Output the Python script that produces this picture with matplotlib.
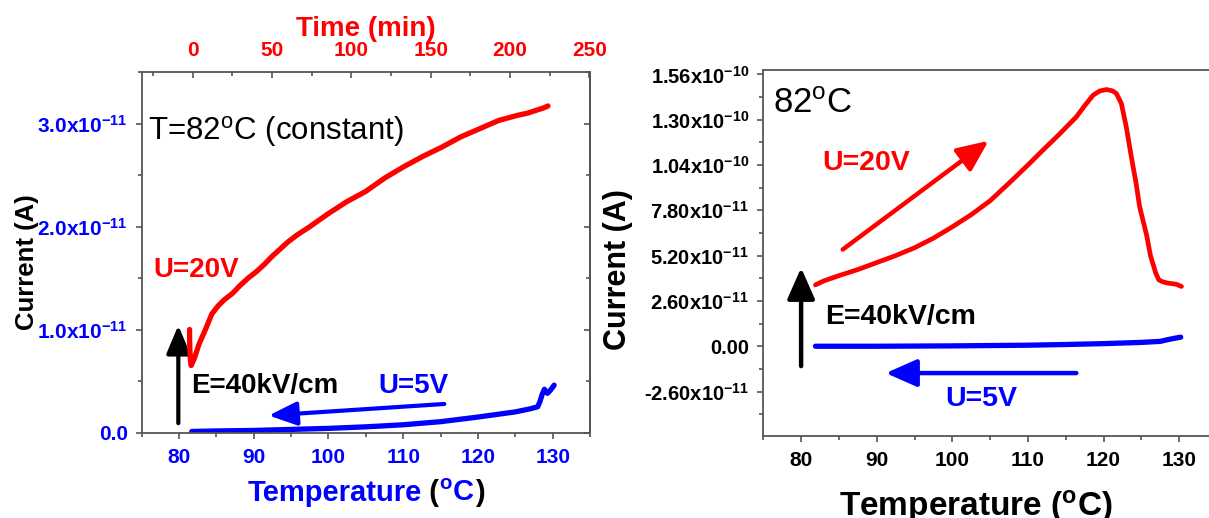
import numpy as np
import matplotlib
matplotlib.use('Agg')
import matplotlib.pyplot as plt
from matplotlib.ticker import MultipleLocator, FixedLocator
from matplotlib.offsetbox import TextArea, HPacker, AnnotationBbox

plt.rcParams['font.family'] = ['Liberation Sans', 'DejaVu Sans']
plt.rcParams['mathtext.default'] = 'regular'

# ---- left panel: U=20V at constant 82 C (vs time), U=5V on cooling (vs T)
# currents in units of 1e-11 A
time_const = [-2.0, -2.0, -1.8, -1.5, -1.0, 1, 4, 8, 12, 16, 20, 25, 30, 35, 40,
              45, 50, 55, 60, 66, 73, 85, 97, 109, 121, 133, 145, 157, 169, 181,
              193, 205, 211, 217, 221, 224]
cur_const = [1.00, 0.90, 0.80, 0.70, 0.65, 0.72, 0.86, 1.00, 1.15, 1.23, 1.29,
             1.35, 1.43, 1.50, 1.56, 1.63, 1.71, 1.78, 1.85, 1.92, 1.99, 2.12,
             2.24, 2.34, 2.47, 2.58, 2.68, 2.77, 2.87, 2.95, 3.03, 3.08, 3.10,
             3.13, 3.15, 3.17]

temp_cool_l = [81.7, 85, 90, 95, 100, 105, 110, 115, 120, 123, 125, 127, 128,
               128.3, 128.6, 128.9, 129.3, 129.7, 130.2]
cur_cool_l = [0.01, 0.015, 0.02, 0.03, 0.04, 0.055, 0.075, 0.105, 0.15, 0.18,
              0.20, 0.23, 0.25, 0.30, 0.37, 0.42, 0.38, 0.41, 0.46]

# ---- right panel: U=20V on heating, U=5V on cooling (vs T)
temp_heat_r = [81.9, 83.0, 85.0, 87.5, 90.0, 92.5, 95.0, 97.5, 100.0, 102.5,
               105.0, 107.6, 110.0, 112.0, 114.0, 116.4, 117.5, 118.6, 119.5,
               120.4, 121.2, 121.7, 122.35, 123.0, 123.67, 124.3, 124.76, 125.7,
               126.2, 126.9, 127.3, 127.8, 128.5, 129.6, 130.3]
cur_heat_r = [3.52, 3.75, 4.05, 4.40, 4.80, 5.20, 5.65, 6.20, 6.85, 7.55,
              8.35, 9.40, 10.40, 11.26, 12.10, 13.16, 13.80, 14.40, 14.65,
              14.73, 14.65, 14.50, 13.93, 12.59, 10.87, 9.35, 8.02, 6.36,
              5.20, 4.20, 3.81, 3.70, 3.62, 3.56, 3.43]

temp_cool_r = [81.9, 90, 100, 110, 115, 120, 125, 127.5, 128.5, 129.3, 130.2]
cur_cool_r = [0.0, 0.0, 0.02, 0.06, 0.10, 0.15, 0.22, 0.28, 0.38, 0.45, 0.52]

left_yticks = [0, 1, 2, 3]
left_ylabels = ['0.0', '1.0x10$^{-11}$', '2.0x10$^{-11}$', '3.0x10$^{-11}$']
right_yticks = [-2.6, 0, 2.6, 5.2, 7.8, 10.4, 13.0, 15.6]
right_ylabels = ['-2.60x10$^{-11}$', '0.00', '2.60x10$^{-11}$', '5.20x10$^{-11}$',
                 '7.80x10$^{-11}$', '1.04x10$^{-10}$', '1.30x10$^{-10}$',
                 '1.56x10$^{-10}$']

sc = 1e-11
RED = '#ff0000'
BLUE = '#0000ff'
SPINE = '#555555'

W, H = 1209, 518
fig = plt.figure(figsize=(W / 100, H / 100), dpi=100)

def px(x0, y0, x1, y1):
    return [x0 / W, 1 - y1 / H, (x1 - x0) / W, (y1 - y0) / H]

axL = fig.add_axes(px(141.7, 72, 590, 432.5))
axR = fig.add_axes(px(763.3, 70, 1217, 436))

for ax in (axL, axR):
    for s in ax.spines.values():
        s.set_color(SPINE)
        s.set_linewidth(1.3)
    ax.set_xlim(75, 135)
    ax.xaxis.set_major_locator(MultipleLocator(10))
    ax.xaxis.set_minor_locator(MultipleLocator(5))
    ax.tick_params(which='both', direction='out', color=SPINE, width=1.2)
    ax.tick_params(which='major', length=4)
    ax.tick_params(which='minor', length=3)

# ---------------- left
axL.set_ylim(0, 3.5 * sc)
axL.set_yticks([v * sc for v in left_yticks])
axL.set_yticklabels(left_ylabels)
axL.yaxis.set_minor_locator(MultipleLocator(0.5 * sc))
axL.tick_params(axis='y', which='both', pad=6, labelsize=15, labelcolor=BLUE)
axL.tick_params(axis='x', which='both', pad=7.5, labelsize=15, labelcolor=BLUE)
for t in axL.get_xticklabels() + axL.get_yticklabels():
    t.set_fontweight('bold')

rsec = axL.secondary_yaxis('right')
rsec.set_yticks([v * sc for v in left_yticks])
rsec.yaxis.set_minor_locator(MultipleLocator(0.5 * sc))
rsec.tick_params(which='both', direction='in', labelright=False, color=SPINE, width=1.2)
rsec.tick_params(which='major', length=4)
rsec.tick_params(which='minor', length=3)
rsec.spines['right'].set_color(SPINE)
rsec.spines['right'].set_linewidth(1.3)

axT = axL.twiny()
axT.set_xlim(-32.2, 250.5)
axT.xaxis.set_major_locator(MultipleLocator(50))
axT.xaxis.set_minor_locator(MultipleLocator(25))
axT.tick_params(which='both', direction='in', color=SPINE, width=1.2, pad=8.5,
                labelsize=15, labelcolor=RED)
axT.tick_params(which='major', length=4)
axT.tick_params(which='minor', length=3)
for t in axT.get_xticklabels():
    t.set_fontweight('bold')
for s in axT.spines.values():
    s.set_visible(False)
axT.set_xlabel('Time (min)', color=RED, fontsize=20, fontweight='bold', labelpad=4)

axT.plot(time_const, [v * sc for v in cur_const], color=RED, lw=3.8,
         solid_capstyle='round', solid_joinstyle='round')
axL.plot(temp_cool_l, [v * sc for v in cur_cool_l], color=BLUE, lw=3.8,
         solid_capstyle='round')

def arrow(ax, tail, tip, color, lw, hl, hw, ms):
    ax.annotate('', xy=(tip[0], tip[1] * sc), xytext=(tail[0], tail[1] * sc),
                arrowprops=dict(arrowstyle='-|>,head_length=%g,head_width=%g' % (hl, hw),
                                color=color, lw=lw, mutation_scale=ms,
                                shrinkA=0, shrinkB=0))

arrow(axL, (79.9, 0.09), (79.9, 1.04), 'black', 3.0, 0.95, 0.4, 18)
arrow(axL, (115.5, 0.277), (92.0, 0.165), BLUE, 3.0, 0.95, 0.4, 18)

axL.text(75.84, 2.84 * sc, 'T=82$^{o}$C (constant)', fontsize=22.5, va='baseline')
axL.text(76.5, 1.513 * sc, 'U=20V', fontsize=20, fontweight='bold', color=RED,
         va='baseline')
axL.text(81.67, 0.381 * sc, 'E=40kV/cm', fontsize=20, fontweight='bold',
         va='baseline')
axL.text(116.1, 0.381 * sc, 'U=5V', fontsize=20, fontweight='bold', color=BLUE,
         va='baseline', ha='right')

# multi-coloured x label
lab_prop = dict(fontsize=21, fontweight='bold')
parts = [('Temperature', BLUE), (' (', 'black'), ('$^{o}$C', BLUE), (')', 'black')]
boxes = [TextArea(s, textprops=dict(color=c, **lab_prop)) for s, c in parts]
pack = HPacker(children=boxes, align='baseline', pad=0, sep=0)
fig.add_artist(AnnotationBbox(pack, (366, H - 493), xycoords='figure pixels',
                              box_alignment=(0.5, 0.5), frameon=False, pad=0))

fig.text(27 / W, 1 - 262 / H, 'Current (A)', rotation=90, ha='center', va='center',
         fontsize=18.5, fontweight='bold')

# ---------------- right
axR.set_ylim(-5.15 * sc, 15.85 * sc)
axR.yaxis.set_major_locator(FixedLocator([v * sc for v in right_yticks]))
axR.set_yticklabels(right_ylabels)
axR.yaxis.set_minor_locator(FixedLocator([(v + 1.3) * sc for v in [-5.2] + right_yticks]))
axR.tick_params(axis='y', which='both', pad=6.3, labelsize=14.5)
axR.tick_params(axis='x', which='both', pad=7, labelsize=15)
for t in axR.get_xticklabels() + axR.get_yticklabels():
    t.set_fontweight('bold')

axR.plot(temp_heat_r, [v * sc for v in cur_heat_r], color=RED, lw=3.4,
         solid_capstyle='round', solid_joinstyle='round')
axR.plot(temp_cool_r, [v * sc for v in cur_cool_r], color=BLUE, lw=3.8,
         solid_capstyle='round')

arrow(axR, (80, -1.14), (80, 4.5), 'black', 3.2, 0.95, 0.42, 20)
arrow(axR, (85.5, 5.55), (104.8, 11.79), RED, 3.2, 0.95, 0.42, 20)
arrow(axR, (116.4, -1.54), (91.2, -1.54), BLUE, 3.2, 0.95, 0.42, 20)

axR.text(76.28, 13.37 * sc, '82$^{o}$C', fontsize=25, va='baseline')
axR.text(82.85, 10.11 * sc, 'U=20V', fontsize=20.5, fontweight='bold', color=RED,
         va='baseline')
axR.text(83.15, 1.257 * sc, 'E=40kV/cm', fontsize=20.5, fontweight='bold',
         va='baseline')
axR.text(99.0, -3.43 * sc, 'U=5V', fontsize=20.5, fontweight='bold', color=BLUE,
         va='baseline')

fig.text(976 / W, 1 - 516 / H, 'Temperature ($^{o}$C)', ha='center', va='baseline',
         fontsize=24, fontweight='bold')
fig.text(618 / W, 1 - 270 / H, 'Current (A)', rotation=90, ha='center', va='center',
         fontsize=22, fontweight='bold')

fig.savefig('out.png', dpi=100)
